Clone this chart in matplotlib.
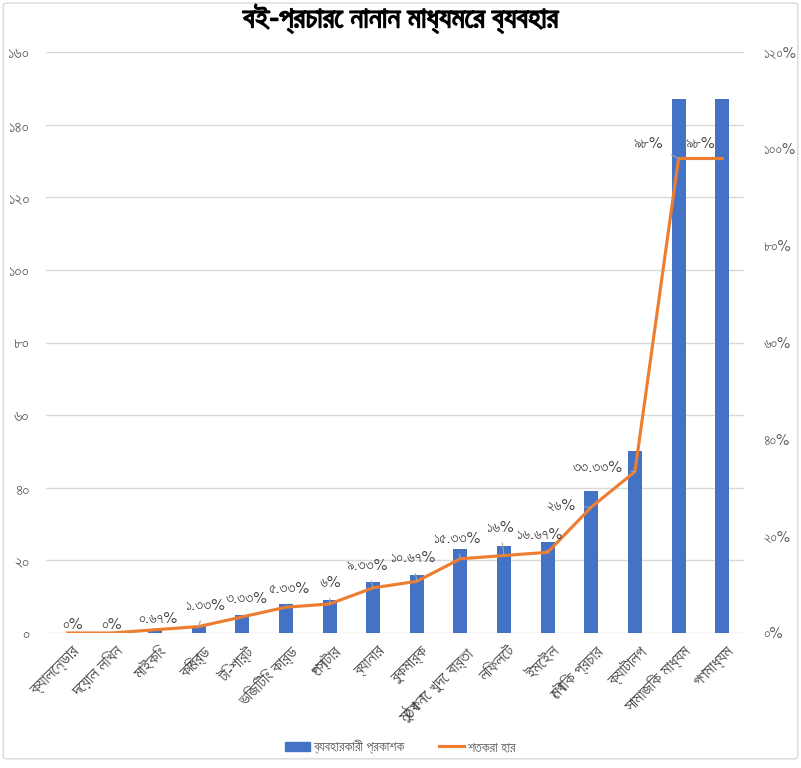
import matplotlib
matplotlib.use('Agg')
import matplotlib.pyplot as plt
import matplotlib.patheffects as pe
import matplotlib.transforms as mtransforms
from matplotlib import font_manager
from matplotlib.ft2font import FT2Font
from matplotlib.patches import FancyBboxPatch
from matplotlib.lines import Line2D
from matplotlib.patches import Patch

# ডেটা
categories = ['ক্যালেন্ডার', 'দেয়াল লিখন', 'মাইকিং', 'কিবোর্ড', 'টি-শার্ট',
              'ভিজিটিং কার্ড', 'পোস্টার', 'ব্যানার', 'বুকমার্ক',
              'মুঠোফোনে খুদে বার্তা', 'লিফলেট', 'ইমেইল', 'মৌখিক প্রচার',
              'ক্যাটালগ', 'সামাজিক মাধ্যম', 'গণমাধ্যম']
publishers = [0, 0, 1, 2, 5, 8, 9, 14, 16, 23, 24, 25, 39, 50, 147, 147]
percent = [0, 0, 0.67, 1.33, 3.33, 5.33, 6, 9.33, 10.67, 15.33, 16, 16.67,
           26, 33.33, 98, 98]
left_ticks = [0, 20, 40, 60, 80, 100, 120, 140, 160]
right_ticks = [0, 20, 40, 60, 80, 100, 120]

# বাংলা ফন্ট বাছাই: যেটিতে নমুনা লেখা সবচেয়ে সরু
sample = 'বই-প্রচারে নানান মাধ্যমের ব্যবহার ০১২৩৪৫৬৭৮৯%'
bn_font, best_w = None, None
for f in font_manager.fontManager.ttflist:
    if f.weight not in (400, 'normal', 'regular'):
        continue
    try:
        ft = FT2Font(f.fname)
        cmap = ft.get_charmap()
        if not all(ord(c) in cmap for c in sample if c != ' '):
            continue
        ft.set_size(10, 72)
        ft.set_text(sample, 0.0)
        w = ft.get_width_height()[0]
        if best_w is None or w < best_w:
            bn_font, best_w = f.name, w
    except Exception:
        pass
families = [bn_font, 'DejaVu Sans'] if bn_font else ['DejaVu Sans']
plt.rcParams['font.family'] = families

BN_DIGITS = str.maketrans('0123456789', '০১২৩৪৫৬৭৮৯')


def bn(s):
    return str(s).translate(BN_DIGITS)


def pct_label(v):
    s = f'{v:.2f}'.rstrip('0').rstrip('.')
    return bn(s) + '%'


bar_color = '#4472C4'
line_color = '#ED7D31'
text_color = '#595959'
grid_color = '#D9D9D9'

fig = plt.figure(figsize=(8.01, 7.68), dpi=100)
fig.patches.append(FancyBboxPatch((0.004, 0.012), 0.992, 0.984,
                                  boxstyle='round,pad=0,rounding_size=0.004',
                                  transform=fig.transFigure, fill=False,
                                  edgecolor='#D9D9D9', linewidth=1))

ax = fig.add_axes([46 / 801, 135 / 768, 698 / 801, 581 / 768])
x = list(range(len(categories)))
ax.bar(x, publishers, width=0.32, color=bar_color, zorder=2)
ax.set_xlim(-0.5, len(categories) - 0.5)
ax.set_ylim(0, 160)
ax.set_yticks(left_ticks)
ax.set_yticklabels([bn(t) for t in left_ticks])
ax.yaxis.grid(True, color=grid_color, linewidth=1)
ax.set_axisbelow(True)
for s in ax.spines.values():
    s.set_visible(False)
ax.tick_params(axis='y', length=0, pad=12, labelsize=11.5, labelcolor=text_color)
ax.set_xticks(x)
ax.set_xticklabels(categories, rotation=45, ha='right', rotation_mode='anchor',
                   fontsize=12.5, color='#404040')
ax.tick_params(axis='x', length=0, pad=8)
# লেবেলগুলো একটু ডানে সরানো
shift = mtransforms.ScaledTranslation(4 / 100, 0, fig.dpi_scale_trans)
for lbl in ax.get_xticklabels():
    lbl.set_transform(lbl.get_transform() + shift)

ax2 = ax.twinx()
ax2.plot(x, percent, color=line_color, linewidth=2.25, zorder=3)
ax2.set_ylim(0, 120)
ax2.set_yticks(right_ticks)
ax2.set_yticklabels([bn(t) + '%' for t in right_ticks])
ax2.tick_params(axis='y', length=0, pad=14, labelsize=10.5, labelcolor=text_color)
for s in ax2.spines.values():
    s.set_visible(False)

# লেবেলের অবস্থান (পিক্সেল অফসেট) ও লিডার লাইন
offsets = [(5, 8), (0, 8), (3, 11), (6, 21), (4, 18), (3, 18), (1, 21),
           (-6, 22), (-4, 23), (-4, 20), (-4, 28), (-8, 17), (-30, 1),
           (-37, 4), (-30, 15), (-22, 15)]
leaders = [False, False, False, True, False, False, True, True, True, True,
           True, True, True, True, True, False]
for i, v in enumerate(percent):
    arrow = dict(arrowstyle='-', color='#A6A6A6', linewidth=0.8,
                 shrinkA=4, shrinkB=0) if leaders[i] else None
    ax2.annotate(pct_label(v), (x[i], v), xytext=offsets[i],
                 textcoords='offset pixels', ha='center', va='center',
                 fontsize=11, color='#404040', arrowprops=arrow, zorder=4)

# শিরোনাম: মোটা ফেস না থাকায় স্ট্রোক দিয়ে গাঢ় করা
fig.text(0.5, 1 - 19 / 768, 'বই-প্রচারে নানান মাধ্যমের ব্যবহার',
         ha='center', va='center', fontsize=21, color='#000000',
         path_effects=[pe.withStroke(linewidth=1.1, foreground='#000000')])

handles = [Patch(color=bar_color), Line2D([0], [0], color=line_color, linewidth=2.25)]
fig.legend(handles, ['ব্যবহারকারী প্রকাশক', 'শতকরা হার'], loc='center',
           bbox_to_anchor=(0.5, 1 - 747 / 768), ncol=2, frameon=False,
           fontsize=10, labelcolor=text_color, handlelength=1.8,
           handleheight=0.6, columnspacing=2.5, handletextpad=0.2)

fig.savefig('out.png', dpi=100)
